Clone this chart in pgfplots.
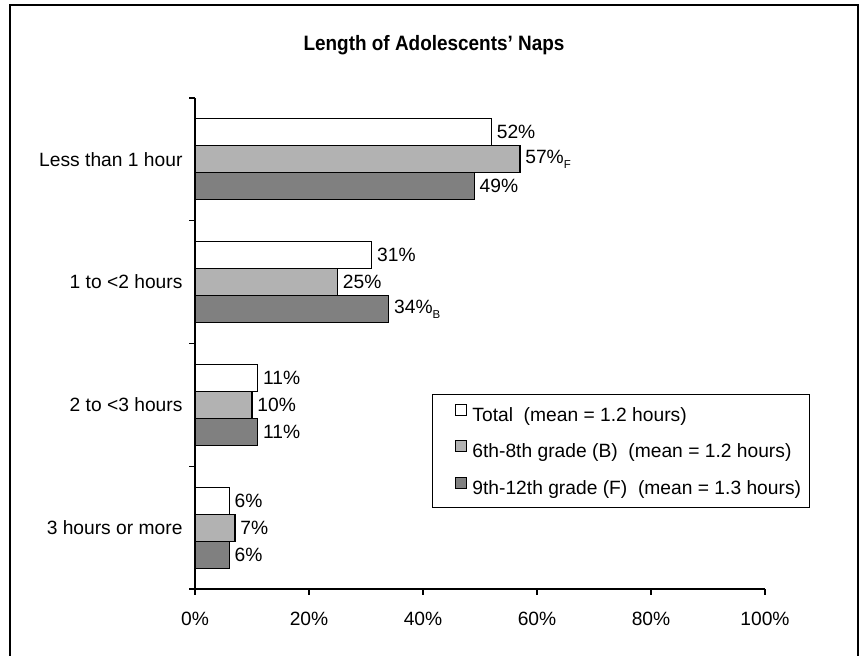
\documentclass[border=0pt]{standalone}
\usepackage{fontspec}
\setmainfont{Liberation Sans}
\usepackage{pgfplots}
\pgfplotsset{compat=1.18}
\definecolor{barlight}{HTML}{B2B2B2}
\definecolor{bardark}{HTML}{808080}
\newcommand{\lblfont}{\fontsize{19.3}{23}\selectfont}
\newcommand{\sub}[1]{\raisebox{-5bp}{\fontsize{11.5}{12}\selectfont #1}}
\pgfplotsset{sqleg/.style={legend image code/.code={%
  \path (0bp,0bp);
  \draw[##1,line width=1.1bp] (19bp,1bp) rectangle (30bp,12bp);}}}
\begin{document}
\begin{tikzpicture}[x=1bp,y=1bp]
\useasboundingbox (0,0) rectangle (867,656);
\begin{scope}
\clip (0,0) rectangle (867,656);
\draw[line width=1.5bp] (10,-20) -- (10,651) -- (858,651) -- (858,-20);
\end{scope}
\node[font=\bfseries\fontsize{19}{23}\selectfont] at (434,611) {\scalebox{1}[1.1]{Length of Adolescents’ Naps}};
\begin{axis}[
  at={(195bp,67bp)}, anchor=south west,
  scale only axis, width=570bp, height=491bp,
  xmin=0, xmax=100, ymin=-0.5, ymax=3.5,
  xbar, bar width=0.22,
  axis x line*=bottom, axis y line*=left,
  axis line style={-, line width=1.4bp, black},
  tick align=outside, major tick length=6bp,
  tick style={black, line width=1.3bp},
  xtick={0,20,40,60,80,100},
  xticklabels={0\%,20\%,40\%,60\%,80\%,100\%},
  xticklabel style={yshift=-14bp},
  ytick={-0.5,0.5,1.5,2.5,3.5}, yticklabels={},
  extra y ticks={0,1,2,3},
  extra y tick labels={3 hours or more,2 to <3 hours,1 to <2 hours,Less than 1 hour},
  extra y tick style={major tick length=0pt, yticklabel style={xshift=-9bp}},
  tick label style={font=\lblfont},
  point meta=explicit symbolic,
  nodes near coords,
  every node near coord/.append style={font=\lblfont, anchor=west, xshift=1.5bp, black},
  legend cell align=left,
  legend style={at={(rel axis cs:0.416,0.397)}, anchor=north west, draw=black,
    line width=1.3bp, fill=white, font=\lblfont, inner xsep=3bp, inner ysep=9bp,
    row sep=15bp,
    nodes={inner ysep=0pt, inner xsep=5.5bp, text height=14bp, text depth=4bp}},
]
\addplot[fill=white, draw=black, line width=1.2bp, bar shift=0.22, sqleg]
  coordinates {(52,3)[52\%] (31,2)[31\%] (11,1)[11\%] (6,0)[6\%]};
\addlegendentry{Total\ \ (mean = 1.2 hours)}
\addplot[fill=barlight, draw=black, line width=1.2bp, bar shift=0, sqleg]
  coordinates {(57,3)[57\%\sub{F}] (25,2)[25\%] (10,1)[10\%] (7,0)[7\%]};
\addlegendentry{6th-8th grade (B)\ \ (mean = 1.2 hours)}
\addplot[fill=bardark, draw=black, line width=1.2bp, bar shift=-0.22, sqleg]
  coordinates {(49,3)[49\%] (34,2)[34\%\sub{B}] (11,1)[11\%] (6,0)[6\%]};
\addlegendentry{9th-12th grade (F)\ \ (mean = 1.3 hours)}
\end{axis}
\end{tikzpicture}
\end{document}
